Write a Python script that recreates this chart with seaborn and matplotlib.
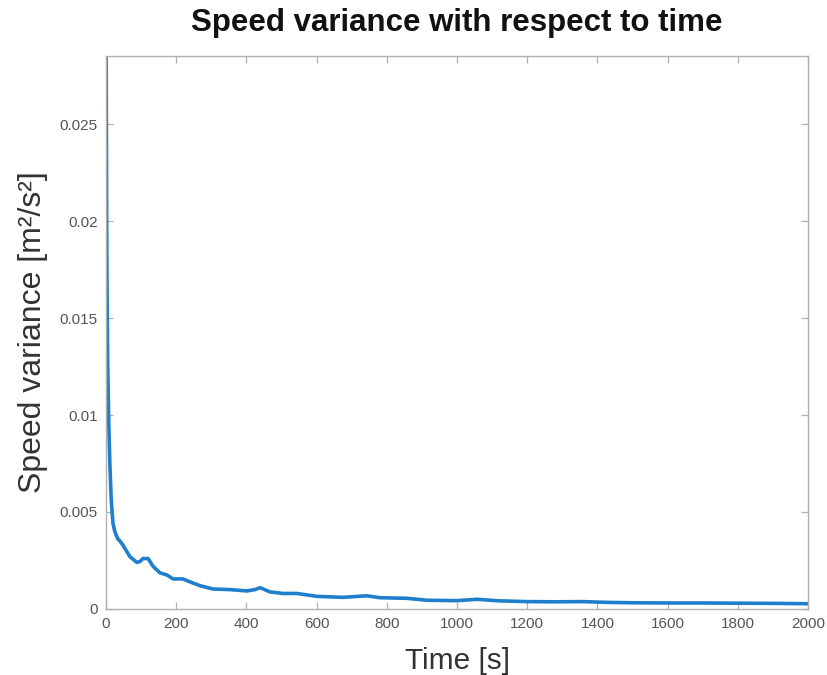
import matplotlib
matplotlib.use("Agg")
import matplotlib.pyplot as plt
import seaborn as sns
import pandas as pd

# Speed variance samples over the simulation time
time_s = [0, 1, 2, 3, 5, 8, 11, 15, 20, 25, 34, 40, 48, 58, 68, 78, 88, 97, 105, 120,
          134, 154, 174, 191, 219, 239, 268, 305, 353, 401, 425, 439, 467, 504,
          544, 601, 675, 743, 781, 858, 914, 1000, 1057, 1120, 1200, 1280, 1359,
          1430, 1501, 1600, 1700, 1786, 1900, 2000]
variance = [0.031, 0.026, 0.020, 0.0165, 0.0125, 0.0095, 0.0075, 0.0056, 0.0044,
            0.0040, 0.0036, 0.0035, 0.0033, 0.0030, 0.0027, 0.00255, 0.0024,
            0.00245, 0.0026, 0.0026, 0.0022, 0.00186, 0.00175, 0.00155, 0.00155,
            0.0014, 0.0012, 0.00103, 0.0010, 0.00093, 0.00100, 0.0011, 0.00088,
            0.0008, 0.0008, 0.00065, 0.0006, 0.00068, 0.00058, 0.00055, 0.00045,
            0.00043, 0.0005, 0.00042, 0.00038, 0.00037, 0.00038, 0.00034, 0.00032,
            0.00031, 0.00031, 0.0003, 0.00029, 0.00027]

x_ticks = [0, 200, 400, 600, 800, 1000, 1200, 1400, 1600, 1800, 2000]
y_ticks = [0, 0.005, 0.01, 0.015, 0.02, 0.025]
y_tick_labels = ["0", "0.005", "0.01", "0.015", "0.02", "0.025"]

df = pd.DataFrame({"Time": time_s, "Variance": variance})

sns.set_theme(style="white")
plt.rcParams["font.family"] = ["Liberation Sans", "DejaVu Sans"]

fig = plt.figure(figsize=(8.28, 6.75), dpi=100)
ax = fig.add_axes([0.128, 0.0978, 0.848, 0.819])

sns.lineplot(data=df, x="Time", y="Variance", ax=ax, color="#1f7fcc",
             linewidth=2.6, estimator=None)

ax.set_xlim(0, 2000)
ax.set_ylim(0, 0.0285)
ax.set_xticks(x_ticks)
ax.set_xticklabels([str(t) for t in x_ticks])
ax.set_yticks(y_ticks)
ax.set_yticklabels(y_tick_labels)

for side in ["top", "right", "bottom", "left"]:
    ax.spines[side].set_visible(True)
    ax.spines[side].set_color("#b0b0b0")
    ax.spines[side].set_linewidth(1.0)

ax.tick_params(axis="both", which="both", direction="in", length=5, width=0.9,
               color="#b0b0b0", labelcolor="#555555", labelsize=11,
               top=True, right=True, bottom=True, left=True, pad=6)

ax.set_xlabel("Time [s]", fontsize=21.5, color="#333333", labelpad=11)
ax.set_ylabel("Speed variance [m²/s²]", fontsize=23, color="#333333", labelpad=8)
ax.set_title("Speed variance with respect to time", fontsize=22.5,
             fontweight="bold", color="#111111", pad=18)

fig.savefig("out.png", dpi=100)
